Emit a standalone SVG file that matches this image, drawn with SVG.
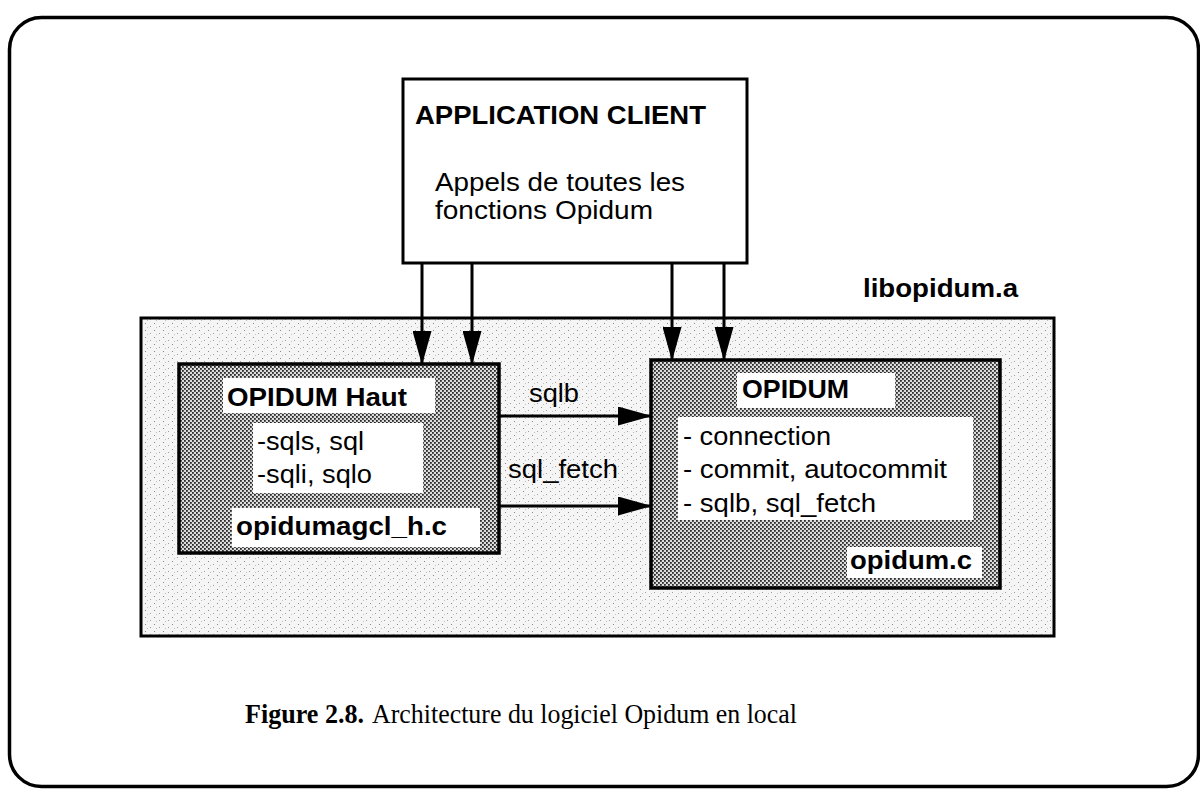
<svg xmlns="http://www.w3.org/2000/svg" width="1200" height="791" viewBox="0 0 1200 791">
<style>
.s{font-family:"Liberation Sans",Arial,Helvetica,sans-serif;font-size:26px;fill:#000}
.b{font-weight:bold}
.cap{font-family:"Liberation Serif","Times New Roman",serif;font-size:27px;fill:#000}
.box{stroke:#000;stroke-width:3.5}
.wh{fill:#fff;stroke:none}
.ln{stroke:#000;stroke-width:3;fill:none;marker-end:url(#ah)}
</style>
<defs>
<pattern id="light" width="9" height="7" patternUnits="userSpaceOnUse">
<rect width="9" height="7" fill="#f5f5f5"/>
<rect x="1" y="1" width="1" height="1" fill="#8a8a8a"/>
<rect x="6" y="4" width="1" height="1" fill="#a0a0a0"/>
<rect x="3" y="5" width="1" height="1" fill="#c0c0c0"/>
</pattern>
<pattern id="dark" width="4" height="4" patternUnits="userSpaceOnUse">
<rect width="4" height="4" fill="#dcdcdc"/>
<rect x="0" y="0" width="1.8" height="1.8" fill="#2a2a2a"/>
<rect x="2" y="2" width="1.8" height="1.8" fill="#2a2a2a"/>
</pattern>
<marker id="ah" viewBox="0 0 34 19" refX="33" refY="9.5" markerWidth="34" markerHeight="19" markerUnits="userSpaceOnUse" orient="auto">
<path d="M0,0 L34,9.5 L0,19 z" fill="#000"/>
</marker>
</defs>

<rect id="frame" x="9.5" y="17.5" width="1189" height="769" rx="32" ry="32" fill="#fff" stroke="#000" stroke-width="3.5"/>

<g id="libopidum">
<rect x="141" y="318" width="913" height="318" fill="url(#light)" stroke="#000" stroke-width="3"/>
<text class="s b" x="863" y="297" textLength="155" lengthAdjust="spacingAndGlyphs">libopidum.a</text>
</g>

<g id="application-client">
<rect x="403" y="79" width="344" height="184" fill="#fff" stroke="#000" stroke-width="3"/>
<text class="s b" x="415" y="124" textLength="291" lengthAdjust="spacingAndGlyphs">APPLICATION CLIENT</text>
<text class="s" x="435" y="191" textLength="250" lengthAdjust="spacingAndGlyphs">Appels de toutes les</text>
<text class="s" x="435" y="219" textLength="218" lengthAdjust="spacingAndGlyphs">fonctions Opidum</text>
</g>

<g id="opidum-haut">
<rect class="box" x="179" y="364" width="320" height="189" fill="url(#dark)"/>
<rect class="wh" x="223" y="378" width="212" height="35"/>
<text class="s b" x="227" y="406" textLength="180" lengthAdjust="spacingAndGlyphs">OPIDUM Haut</text>
<rect class="wh" x="253" y="423" width="170" height="70"/>
<text class="s" x="257" y="450" textLength="107" lengthAdjust="spacingAndGlyphs">-sqls, sql</text>
<text class="s" x="257" y="483" textLength="115" lengthAdjust="spacingAndGlyphs">-sqli, sqlo</text>
<rect class="wh" x="232" y="508" width="248" height="39"/>
<text class="s b" x="236" y="535" textLength="211" lengthAdjust="spacingAndGlyphs">opidumagcl_h.c</text>
</g>

<g id="opidum">
<rect class="box" x="651" y="360" width="349" height="228" fill="url(#dark)"/>
<rect class="wh" x="737" y="373" width="158" height="35"/>
<text class="s b" x="742" y="398" textLength="107" lengthAdjust="spacingAndGlyphs">OPIDUM</text>
<rect class="wh" x="678" y="417" width="295" height="103"/>
<text class="s" x="683" y="445" textLength="148" lengthAdjust="spacingAndGlyphs">- connection</text>
<text class="s" x="683" y="478" textLength="264" lengthAdjust="spacingAndGlyphs">- commit, autocommit</text>
<text class="s" x="683" y="512" textLength="193" lengthAdjust="spacingAndGlyphs">- sqlb, sql_fetch</text>
<rect class="wh" x="847" y="547" width="135" height="31"/>
<text class="s b" x="850" y="569" textLength="122" lengthAdjust="spacingAndGlyphs">opidum.c</text>
</g>

<g id="connectors">
<line class="ln" x1="422" y1="263" x2="422" y2="364"/>
<line class="ln" x1="472" y1="263" x2="472" y2="364"/>
<line class="ln" x1="672" y1="263" x2="672" y2="360"/>
<line class="ln" x1="724" y1="263" x2="724" y2="360"/>
<line class="ln" x1="500" y1="416" x2="651" y2="416"/>
<line class="ln" x1="500" y1="506" x2="651" y2="506"/>
<text class="s" x="529" y="402" textLength="50" lengthAdjust="spacingAndGlyphs">sqlb</text>
<text class="s" x="508" y="478" textLength="110" lengthAdjust="spacingAndGlyphs">sql_fetch</text>
</g>

<g id="caption">
<text class="cap" x="245" y="723" font-weight="bold" textLength="119" lengthAdjust="spacingAndGlyphs">Figure 2.8.</text>
<text class="cap" x="372" y="723" textLength="425" lengthAdjust="spacingAndGlyphs">Architecture du logiciel Opidum en local</text>
</g>
</svg>
